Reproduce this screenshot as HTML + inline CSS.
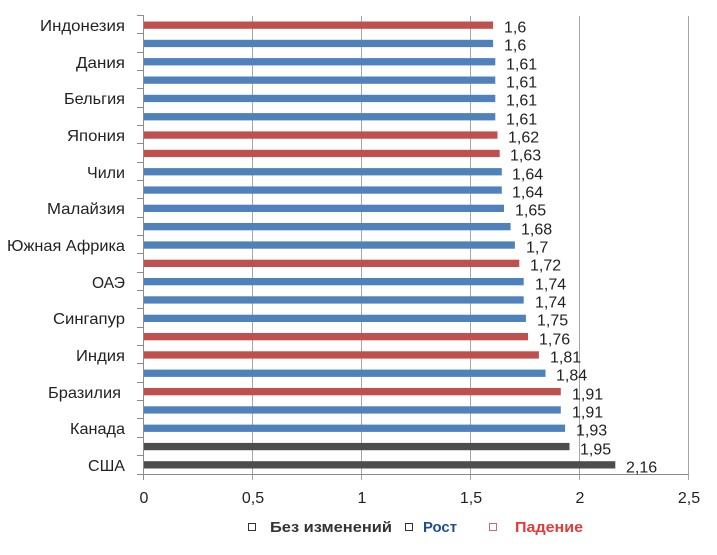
<!DOCTYPE html>
<html><head><meta charset="utf-8">
<style>
html,body{margin:0;padding:0;background:#fff;}
svg{display:block;}
text{font-family:"Liberation Sans",Arial,sans-serif;}
</style></head>
<body>
<svg width="717" height="555" viewBox="0 0 717 555" xmlns="http://www.w3.org/2000/svg">
<rect width="717" height="555" fill="#fff"/>
<!-- gridlines -->
<g stroke="#a6a6a6" stroke-width="1">
<line x1="252.5" y1="16" x2="252.5" y2="480"/>
<line x1="361.5" y1="16" x2="361.5" y2="480"/>
<line x1="470.5" y1="16" x2="470.5" y2="480"/>
<line x1="579.5" y1="16" x2="579.5" y2="480"/>
<line x1="688.5" y1="16" x2="688.5" y2="480"/>
</g>
<!-- axes -->
<g stroke="#8c8c8c" stroke-width="1">
<line x1="143.5" y1="15" x2="143.5" y2="480"/>
<line x1="143.5" y1="474.5" x2="689" y2="474.5"/>
<line x1="137" y1="15.5" x2="144" y2="15.5"/>
<line x1="137" y1="33.5" x2="144" y2="33.5"/>
<line x1="137" y1="52.5" x2="144" y2="52.5"/>
<line x1="137" y1="70.5" x2="144" y2="70.5"/>
<line x1="137" y1="88.5" x2="144" y2="88.5"/>
<line x1="137" y1="107.5" x2="144" y2="107.5"/>
<line x1="137" y1="125.5" x2="144" y2="125.5"/>
<line x1="137" y1="143.5" x2="144" y2="143.5"/>
<line x1="137" y1="162.5" x2="144" y2="162.5"/>
<line x1="137" y1="180.5" x2="144" y2="180.5"/>
<line x1="137" y1="198.5" x2="144" y2="198.5"/>
<line x1="137" y1="217.5" x2="144" y2="217.5"/>
<line x1="137" y1="235.5" x2="144" y2="235.5"/>
<line x1="137" y1="253.5" x2="144" y2="253.5"/>
<line x1="137" y1="272.5" x2="144" y2="272.5"/>
<line x1="137" y1="290.5" x2="144" y2="290.5"/>
<line x1="137" y1="308.5" x2="144" y2="308.5"/>
<line x1="137" y1="327.5" x2="144" y2="327.5"/>
<line x1="137" y1="345.5" x2="144" y2="345.5"/>
<line x1="137" y1="363.5" x2="144" y2="363.5"/>
<line x1="137" y1="382.5" x2="144" y2="382.5"/>
<line x1="137" y1="400.5" x2="144" y2="400.5"/>
<line x1="137" y1="418.5" x2="144" y2="418.5"/>
<line x1="137" y1="437.5" x2="144" y2="437.5"/>
<line x1="137" y1="455.5" x2="144" y2="455.5"/>
<line x1="137" y1="474.5" x2="144" y2="474.5"/>
</g>
<!-- bars -->
<g>
<rect x="144" y="21.5" width="349.1" height="7.3" fill="#c0504d"/>
<rect x="144" y="39.8" width="349.1" height="7.3" fill="#4f81bd"/>
<rect x="144" y="58.1" width="351.3" height="7.3" fill="#4f81bd"/>
<rect x="144" y="76.5" width="351.3" height="7.3" fill="#4f81bd"/>
<rect x="144" y="94.8" width="351.3" height="7.3" fill="#4f81bd"/>
<rect x="144" y="113.1" width="351.3" height="7.3" fill="#4f81bd"/>
<rect x="144" y="131.4" width="353.5" height="7.3" fill="#c0504d"/>
<rect x="144" y="149.8" width="355.7" height="7.3" fill="#c0504d"/>
<rect x="144" y="168.1" width="357.8" height="7.3" fill="#4f81bd"/>
<rect x="144" y="186.4" width="357.8" height="7.3" fill="#4f81bd"/>
<rect x="144" y="204.7" width="360.0" height="7.3" fill="#4f81bd"/>
<rect x="144" y="223.0" width="366.6" height="7.3" fill="#4f81bd"/>
<rect x="144" y="241.4" width="370.9" height="7.3" fill="#4f81bd"/>
<rect x="144" y="259.7" width="375.3" height="7.3" fill="#c0504d"/>
<rect x="144" y="278.0" width="379.7" height="7.3" fill="#4f81bd"/>
<rect x="144" y="296.3" width="379.7" height="7.3" fill="#4f81bd"/>
<rect x="144" y="314.7" width="381.9" height="7.3" fill="#4f81bd"/>
<rect x="144" y="333.0" width="384.0" height="7.3" fill="#c0504d"/>
<rect x="144" y="351.3" width="394.9" height="7.3" fill="#c0504d"/>
<rect x="144" y="369.6" width="401.5" height="7.3" fill="#4f81bd"/>
<rect x="144" y="388.0" width="416.8" height="7.3" fill="#c0504d"/>
<rect x="144" y="406.3" width="416.8" height="7.3" fill="#4f81bd"/>
<rect x="144" y="424.6" width="421.1" height="7.3" fill="#4f81bd"/>
<rect x="144" y="442.9" width="425.5" height="7.3" fill="#4d4d4d"/>
<rect x="144" y="461.2" width="471.3" height="7.3" fill="#4d4d4d"/>
</g>
<!-- value labels -->
<g font-size="16" fill="#222" transform="translate(0,1.5)">
<text x="504" y="31">1,6</text>
<text x="504" y="49">1,6</text>
<text x="506" y="68">1,61</text>
<text x="506" y="86">1,61</text>
<text x="506" y="104">1,61</text>
<text x="506" y="123">1,61</text>
<text x="508" y="141">1,62</text>
<text x="510" y="159">1,63</text>
<text x="512" y="178">1,64</text>
<text x="512" y="196">1,64</text>
<text x="515" y="214">1,65</text>
<text x="521" y="233">1,68</text>
<text x="526" y="251">1,7</text>
<text x="530" y="269">1,72</text>
<text x="535" y="288">1,74</text>
<text x="535" y="306">1,74</text>
<text x="537" y="324">1,75</text>
<text x="539" y="343">1,76</text>
<text x="550" y="361">1,81</text>
<text x="556" y="379">1,84</text>
<text x="572" y="398">1,91</text>
<text x="572" y="416">1,91</text>
<text x="576" y="434">1,93</text>
<text x="580" y="453">1,95</text>
<text x="626" y="471">2,16</text>
</g>
<!-- category labels -->
<g font-size="16" fill="#222" text-anchor="end">
<text x="125" y="31" textLength="85" lengthAdjust="spacingAndGlyphs">Индонезия</text>
<text x="125" y="68" textLength="49" lengthAdjust="spacingAndGlyphs">Дания</text>
<text x="125" y="104" textLength="61" lengthAdjust="spacingAndGlyphs">Бельгия</text>
<text x="125" y="141" textLength="58" lengthAdjust="spacingAndGlyphs">Япония</text>
<text x="125" y="178" textLength="38" lengthAdjust="spacingAndGlyphs">Чили</text>
<text x="125" y="214" textLength="78" lengthAdjust="spacingAndGlyphs">Малайзия</text>
<text x="125" y="251" textLength="118" lengthAdjust="spacingAndGlyphs">Южная Африка</text>
<text x="125" y="288" textLength="33" lengthAdjust="spacingAndGlyphs">ОАЭ</text>
<text x="125" y="324" textLength="72" lengthAdjust="spacingAndGlyphs">Сингапур</text>
<text x="125" y="361" textLength="49" lengthAdjust="spacingAndGlyphs">Индия</text>
<text x="121" y="398" textLength="73" lengthAdjust="spacingAndGlyphs">Бразилия</text>
<text x="125" y="434" textLength="55" lengthAdjust="spacingAndGlyphs">Канада</text>
<text x="125" y="471" textLength="37" lengthAdjust="spacingAndGlyphs">США</text>
</g>
<!-- x tick labels -->
<g font-size="16" fill="#222" text-anchor="middle">
<text x="144" y="503">0</text>
<text x="253" y="503">0,5</text>
<text x="362" y="503">1</text>
<text x="471" y="503">1,5</text>
<text x="580" y="503">2</text>
<text x="689" y="503">2,5</text>
</g>
<!-- legend -->
<g>
<rect x="248.5" y="523.5" width="7" height="7" fill="#fff" stroke="#333" stroke-width="1"/>
<text x="270" y="532" font-size="15" font-weight="bold" fill="#333" textLength="122" lengthAdjust="spacingAndGlyphs">Без изменений</text>
<rect x="405.5" y="523.5" width="7" height="7" fill="#fff" stroke="#333" stroke-width="1"/>
<text x="423" y="532" font-size="15" font-weight="bold" fill="#1f4e8c" textLength="34" lengthAdjust="spacingAndGlyphs">Рост</text>
<rect x="489.5" y="523.5" width="7" height="7" fill="#fff" stroke="#c07070" stroke-width="1"/>
<text x="515" y="532" font-size="15" font-weight="bold" fill="#e03c3c" textLength="68" lengthAdjust="spacingAndGlyphs">Падение</text>
</g>
</svg>
</body></html>
